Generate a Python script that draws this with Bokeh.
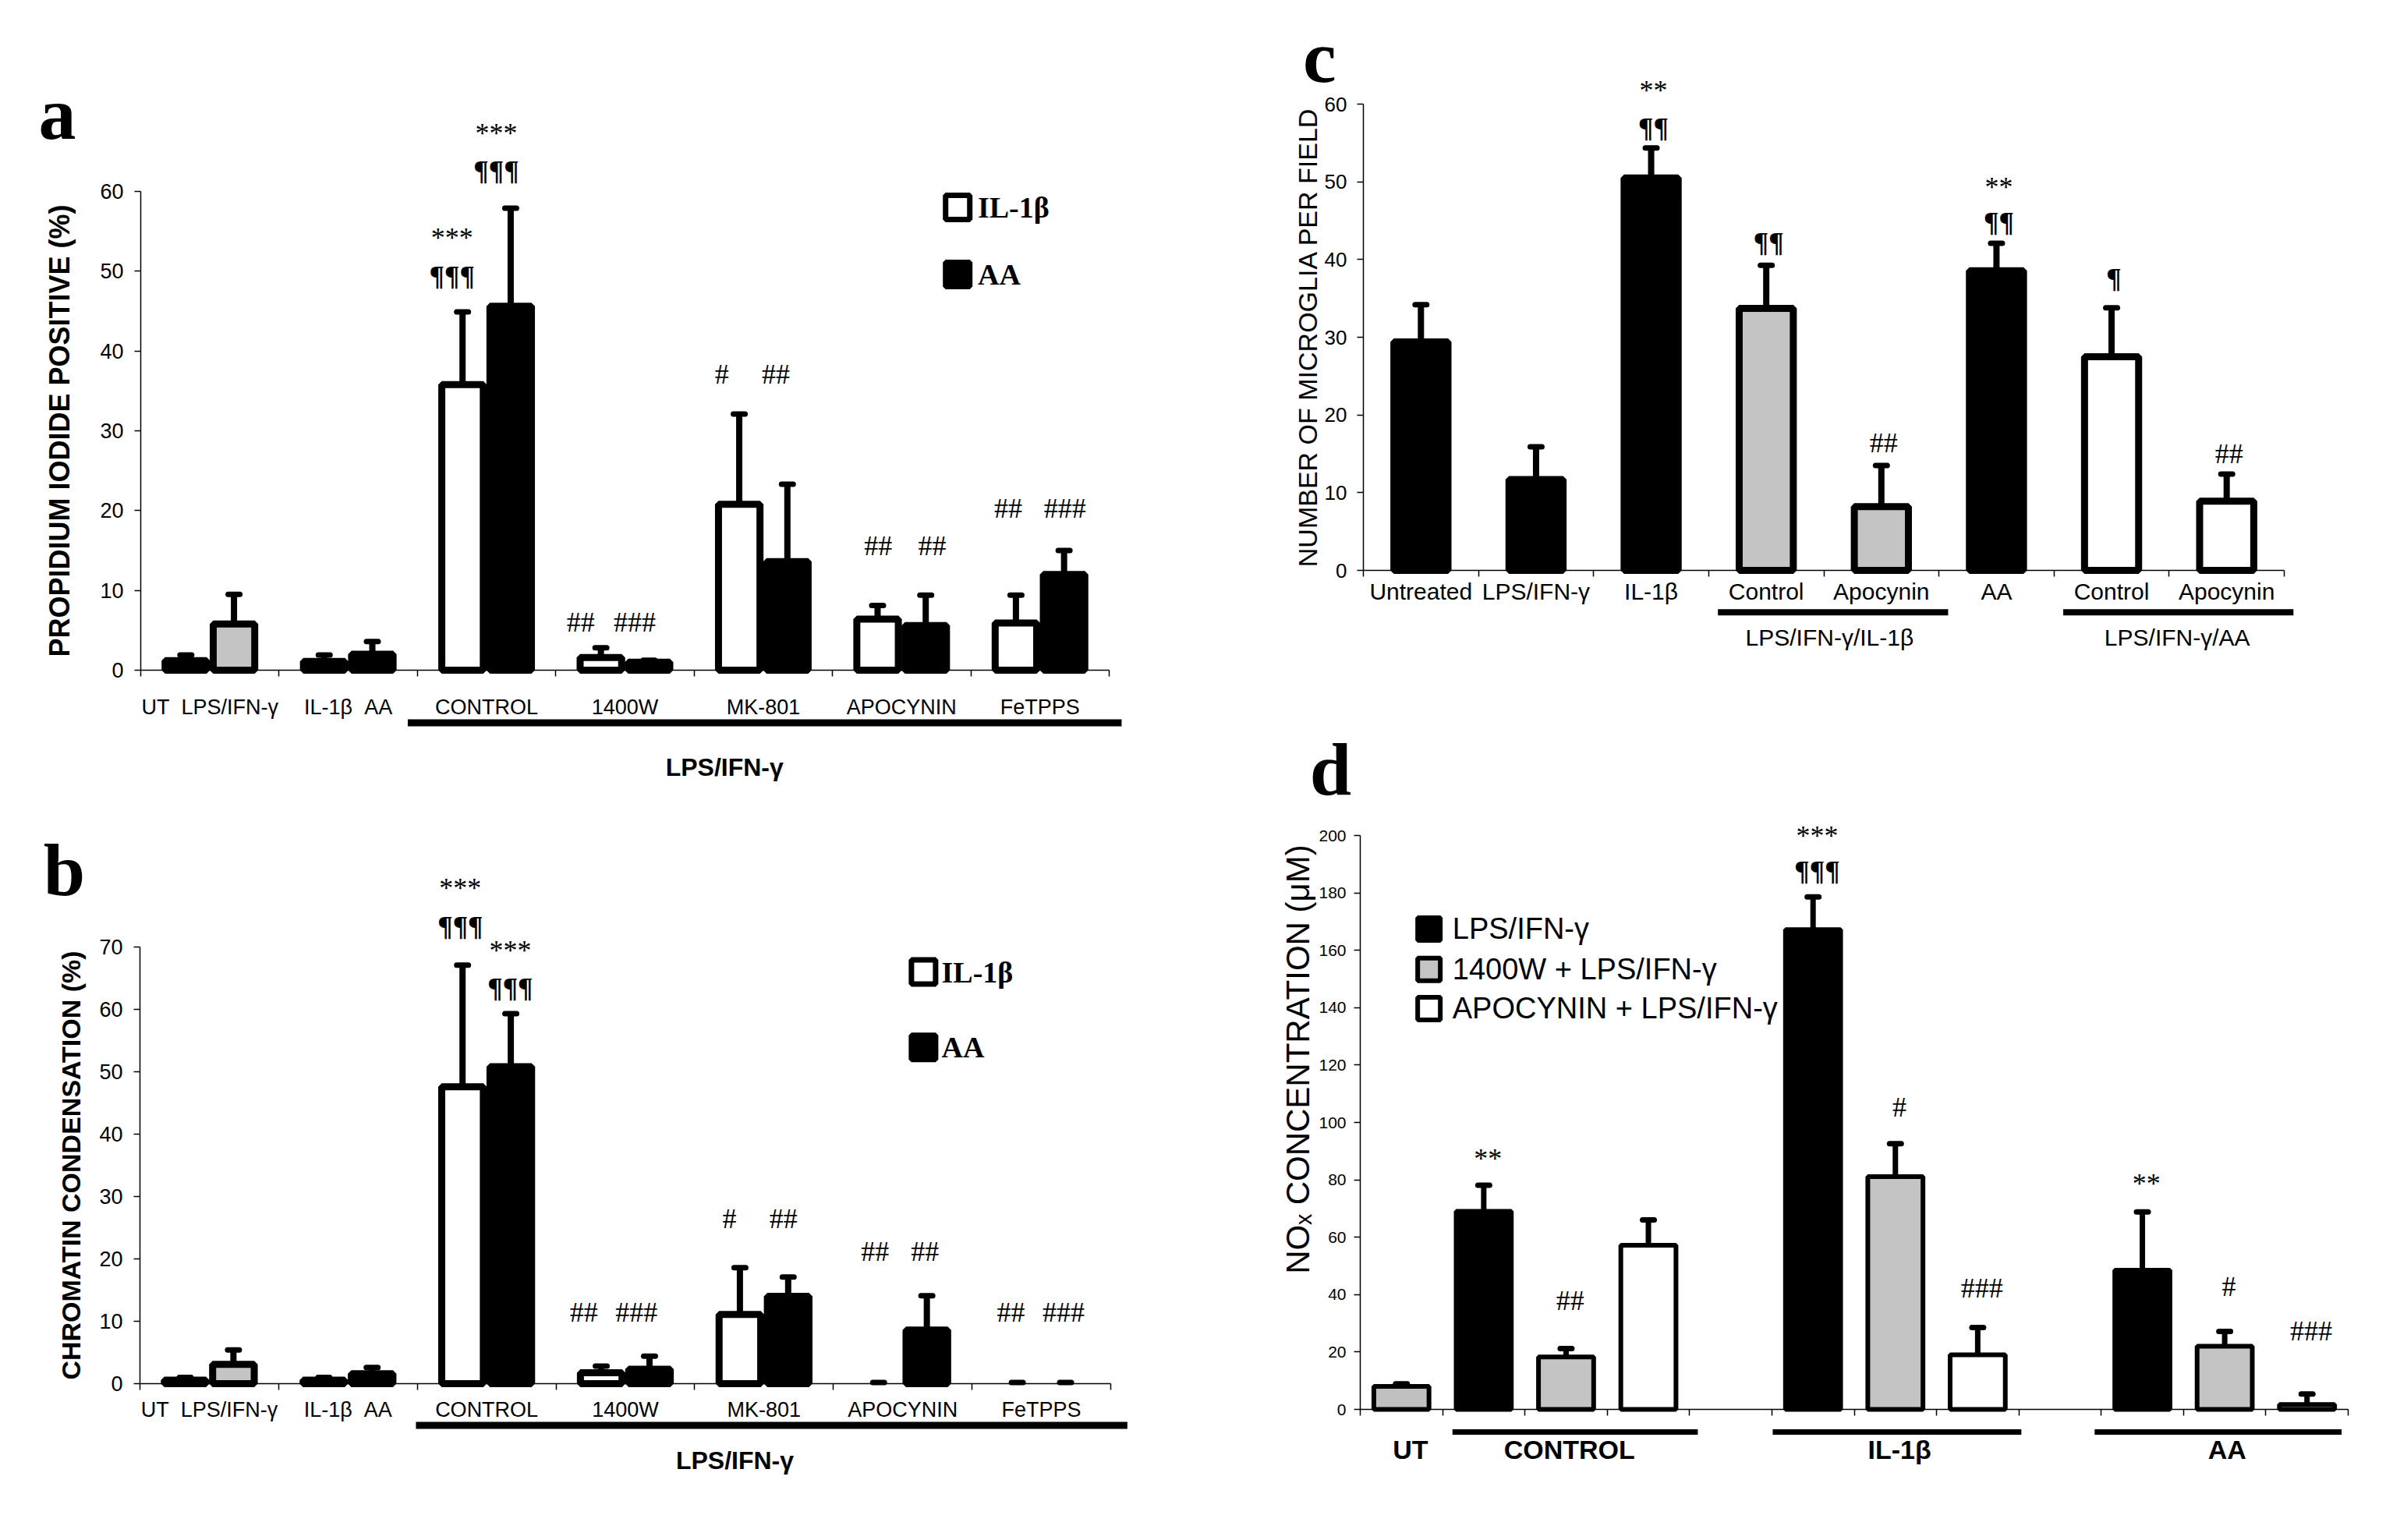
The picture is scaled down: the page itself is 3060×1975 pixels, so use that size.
import math

from bokeh.plotting import figure
from bokeh.models import (ColumnDataSource, Range1d, FixedTicker, Whisker,
                          TeeHead, CDSView, BooleanFilter, Label)
from bokeh.layouts import row, column
from bokeh.core.properties import value, field
from bokeh.embed import file_html
from bokeh.resources import INLINE

SANS = "Liberation Sans"
SERIF = "Liberation Serif"
GREY = "#c4c4c4"

# ---- a: propidium iodide positive (%) ----
a_cats = ["UT\u00a0 LPS/IFN-γ", "IL-1β\u00a0 AA", "CONTROL", "1400W", "MK-801", "APOCYNIN", "FeTPPS"]
a_base = ["UT", "LPS/IFN-γ", "IL-1β", "AA"]
a_base_mean = [1.2, 5.8, 1.1, 2.0]
a_base_err = [1.9, 9.5, 1.9, 3.6]
a_il1b = [35.8, 1.6, 20.8, 6.4, 5.9]
a_il1b_err = [44.9, 2.8, 32.1, 8.1, 9.4]
a_aa = [45.6, 1.0, 13.6, 5.6, 12.0]
a_aa_err = [57.9, 1.25, 23.3, 9.4, 15.0]
a_sig = ["***", "¶¶¶", "***", "¶¶¶", "##", "###", "#", "##", "##", "##", "##", "###"]
a_sig_x = [2.25, 2.25, 2.57, 2.57, 3.18, 3.57, 4.20, 4.59, 5.33, 5.72, 6.27, 6.68]
a_sig_y = [54.2, 49.4, 67.3, 62.6, 6.0, 6.0, 37.1, 37.1, 15.6, 15.6, 20.3, 20.3]

# ---- b: chromatin condensation (%) ----
b_base_mean = [0.55, 3.1, 0.55, 1.6]
b_base_err = [1.0, 5.4, 1.0, 2.6]
b_il1b = [47.6, 1.75, 11.1, 0.0, 0.0]
b_il1b_err = [67.1, 2.8, 18.6, 0.2, 0.2]
b_aa = [50.8, 2.3, 14.0, 8.6, 0.0]
b_aa_err = [59.3, 4.4, 17.1, 14.1, 0.2]
b_sig = a_sig
b_sig_x = [2.31, 2.31, 2.67, 2.67, 3.20, 3.58, 4.25, 4.64, 5.30, 5.66, 6.28, 6.66]
b_sig_y = [79.5, 73.3, 69.5, 63.4, 11.4, 11.4, 26.4, 26.4, 21.2, 21.2, 11.4, 11.4]

# ---- c: microglia per field ----
c_cats = ["Untreated", "LPS/IFN-γ", "IL-1β", "Control", "Apocynin", "AA", "Control", "Apocynin"]
c_mean = [29.4, 11.7, 50.5, 33.7, 8.2, 38.55, 27.5, 8.9]
c_err = [34.2, 15.9, 54.35, 39.25, 13.5, 42.1, 33.8, 12.4]
c_groups = ["LPS/IFN-γ/IL-1β", "LPS/IFN-γ/AA"]
c_sig = ["**", "¶¶", "¶¶", "##", "**", "¶¶", "¶", "##"]
c_sig_bar = [2, 2, 3, 4, 5, 5, 6, 7]
c_sig_y = [61.8, 56.9, 42.2, 16.4, 49.3, 44.8, 37.6, 15.0]

# ---- d: NOx concentration (uM) ----
d_groups = ["UT", "CONTROL", "IL-1β", "AA"]
d_series = ["LPS/IFN-γ", "1400W + LPS/IFN-γ", "APOCYNIN + LPS/IFN-γ"]
d_ut, d_ut_err = 8.0, 8.9
d_lps = [69.0, 167.2, 48.5]
d_lps_err = [78.1, 178.6, 68.8]
d_1400w = [18.3, 81.1, 22.0]
d_1400w_err = [21.2, 92.6, 27.2]
d_apo = [57.2, 19.0, 1.7]
d_apo_err = [66.0, 28.5, 5.4]
d_sig = ["**", "##", "***", "¶¶¶", "#", "###", "**", "#", "###"]
d_sig_slot = [1, 2, 5, 5, 6, 7, 9, 10, 11]
d_sig_y = [87.4, 38.0, 200.0, 187.7, 105.3, 42.3, 78.8, 42.9, 27.4]


def span(lo, hi, p0, v0, p1, v1):
    # range whose ends sit at page pixels lo/hi, given two calibration points
    k = (v1 - v0) / (p1 - p0)
    return Range1d(v0 + (lo - p0) * k, v0 + (hi - p0) * k)


def make_fig(w, h, xr, yr):
    p = figure(width=w, height=h, x_range=xr, y_range=yr, tools="",
               toolbar_location=None, output_backend="svg", min_border=0)
    p.outline_line_color = None
    p.grid.visible = False
    p.xaxis.fixed_location = 0
    p.yaxis.fixed_location = 0
    for ax in (p.xaxis, p.yaxis):
        ax.axis_line_width = 1.5
        ax.major_tick_line_width = 1.5
        ax.minor_tick_line_width = 1.5
        ax.major_tick_in = 0
        ax.minor_tick_in = 0
        ax.major_label_text_font = SANS
        ax.major_label_text_color = "black"
        ax.axis_label_text_font = SANS
        ax.axis_label_text_color = "black"
    return p


def y_axis(p, ticks, title, tick_size, title_size, title_style, standoff, title_standoff):
    ax = p.yaxis
    ax.ticker = FixedTicker(ticks=ticks)
    ax.bounds = (ticks[0], ticks[-1])
    ax.major_tick_out = 8
    ax.minor_tick_out = 0
    ax.major_label_text_font_size = tick_size
    ax.major_label_standoff = standoff
    ax.axis_label = title
    ax.axis_label_text_font_size = title_size
    ax.axis_label_text_font_style = title_style
    ax.axis_label_standoff = title_standoff


def x_axis(p, n, labels, size, standoff):
    ax = p.xaxis
    centers = [i + 0.5 for i in range(len(labels))]
    ax.ticker = FixedTicker(ticks=centers, minor_ticks=list(range(n + 1)))
    ax.bounds = (0, n)
    ax.major_label_overrides = dict(zip(centers, labels))
    ax.major_tick_out = 0
    ax.minor_tick_out = 8
    ax.major_label_text_font_size = size
    ax.major_label_standoff = standoff


def bars(p, xs, tops, errs, fills, width, lw, stem):
    src = ColumnDataSource(dict(x=xs, top=tops, err=errs, fill=fills))
    view = CDSView(filter=BooleanFilter([t > 0 for t in tops]))
    p.vbar(x="x", top="top", bottom=0, width=width, source=src, view=view,
           fill_color="fill", line_color="black", line_width=lw)
    p.add_layout(Whisker(source=src, base="x", lower="top", upper="err",
                         line_width=stem, line_color="black", lower_head=None,
                         upper_head=TeeHead(size=15, line_width=7, line_color="black",
                                            line_cap="round")))


def sig(p, xs, ys, texts):
    styles = ["bold" if "¶" in t else "normal" for t in texts]
    src = ColumnDataSource(dict(x=xs, y=ys, text=texts, style=styles))
    p.text("x", "y", "text", source=src, text_font=value(SERIF), text_font_size="36px",
           text_font_style=field("style"), text_align="center", text_baseline="middle",
           text_color="black")


def label(p, x, y, text, size, font=SANS, style="normal", align="center", angle=0):
    p.add_layout(Label(x=x, y=y, text=text, text_font=font, text_font_size=size,
                       text_font_style=style, text_align=align, text_baseline="middle",
                       text_color="black", angle=angle))


def legend_item(p, x, y, fill, text, tx, font, style, size, marker, lw):
    p.scatter([x], [y], marker="square", size=marker, fill_color=fill,
              line_color="black", line_width=lw)
    label(p, tx, y, text, size, font, style, "left")


def pair_panel(p, base_mean, base_err, il1b, il1b_err, aa, aa_err):
    off = 0.174
    base_x = [0.5 - off, 0.5 + off, 1.5 - off, 1.5 + off]
    bars(p, base_x, base_mean, base_err, ["black", GREY, "black", "black"], 0.30, 9, 8)
    gx = [g + 2.5 for g in range(len(il1b))]
    bars(p, [x - off for x in gx], il1b, il1b_err, ["white"] * len(il1b), 0.30, 9, 8)
    bars(p, [x + off for x in gx], aa, aa_err, ["black"] * len(aa), 0.30, 9, 8)


# ---------- panel a ----------
pa = make_fig(1580, 1042, span(8, 1588, 188, 0, 1430, 7), span(1050, 8, 867, 0, 253, 60))
y_axis(pa, list(range(0, 61, 10)), "PROPIDIUM IODIDE POSITIVE (%)", "27px", "36px", "bold", 14, 28)
x_axis(pa, 7, a_cats, "27px", 24)
pair_panel(pa, a_base_mean, a_base_err, a_il1b, a_il1b_err, a_aa, a_aa_err)
sig(pa, a_sig_x, a_sig_y, a_sig)
pa.segment([1.93], [-6.6], [7.09], [-6.6], line_width=9, line_color="black")
label(pa, 4.22, -12.2, "LPS/IFN-γ", "32px", style="bold")
label(pa, -0.603, 69.8, "a", "96px", SERIF, "bold")
legend_item(pa, 5.905, 58.0, "white", "IL-1β", 6.05, SERIF, "bold", "38px", 31, 7)
legend_item(pa, 5.905, 49.6, "black", "AA", 6.05, SERIF, "bold", "38px", 31, 7)

# ---------- panel b ----------
pb = make_fig(1580, 913, span(8, 1588, 187, 0, 1432, 7), span(1963, 1050, 1782, 0, 1222, 70))
y_axis(pb, list(range(0, 71, 10)), "CHROMATIN CONDENSATION (%)", "27px", "34px", "bold", 14, 14)
x_axis(pb, 7, a_cats, "27px", 10)
pair_panel(pb, b_base_mean, b_base_err, b_il1b, b_il1b_err, b_aa, b_aa_err)
sig(pb, b_sig_x, b_sig_y, b_sig)
pb.segment([1.99], [-6.7], [7.12], [-6.7], line_width=9, line_color="black")
label(pb, 4.29, -12.3, "LPS/IFN-γ", "32px", style="bold")
label(pb, -0.545, 82.4, "b", "96px", SERIF, "bold")
legend_item(pb, 5.65, 66.0, "white", "IL-1β", 5.78, SERIF, "bold", "38px", 31, 7)
legend_item(pb, 5.65, 53.9, "black", "AA", 5.78, SERIF, "bold", "38px", 31, 7)

# ---------- panel c ----------
pc = make_fig(1460, 892, span(1588, 3048, 1756, 0, 2937, 8), span(900, 8, 739, 0, 141, 60))
y_axis(pc, list(range(0, 61, 10)), "NUMBER OF MICROGLIA PER FIELD", "26px", "34px", "normal", 13, 0)
x_axis(pc, 8, c_cats, "30px", 2)
c_fill = ["black", "black", "black", GREY, GREY, "black", "white", "white"]
bars(pc, [i + 0.5 for i in range(len(c_mean))], c_mean, c_err, c_fill, 0.47, 9, 8)
sig(pc, [b + 0.52 for b in c_sig_bar], c_sig_y, c_sig)
pc.segment([3.08, 6.08], [-5.4, -5.4], [5.08, 8.08], [-5.4, -5.4], line_width=8, line_color="black")
label(pc, 4.05, -8.6, c_groups[0], "30px")
label(pc, 7.07, -8.6, c_groups[1], "30px")
label(pc, -0.38, 66.1, "c", "96px", SERIF, "bold")

# ---------- panel d ----------
pd = make_fig(1460, 1063, span(1588, 3048, 1752, 0, 3019, 12), span(1963, 900, 1815, 0, 1079, 200))
y_axis(pd, list(range(0, 201, 20)), None, "21px", "32px", "normal", 10, 0)
label(pd, -0.76, 122, "NOₓ CONCENTRATION (μM)", "42px", angle=math.pi / 2)
pd.xaxis.ticker = FixedTicker(ticks=[], minor_ticks=list(range(13)))
pd.xaxis.bounds = (0, 12)
pd.xaxis.major_tick_out = 0
pd.xaxis.minor_tick_out = 8
bars(pd, [0.5], [d_ut], [d_ut_err], ["#c0c0c0"], 0.67, 6, 7)
starts = [1, 5, 9]
for k, (vals, errs, fill) in enumerate([(d_lps, d_lps_err, "black"),
                                        (d_1400w, d_1400w_err, GREY),
                                        (d_apo, d_apo_err, "white")]):
    bars(pd, [s + k + 0.5 for s in starts], vals, errs, [fill] * 3, 0.67, 6, 7)
sig(pd, [s + 0.55 for s in d_sig_slot], d_sig_y, d_sig)
pd.segment([1.12, 5.01, 8.92], [-7.9] * 3, [4.10, 8.03, 11.92], [-7.9] * 3,
           line_width=7, line_color="black")
for x, g in zip([0.61, 2.54, 6.55, 10.53], d_groups):
    label(pd, x, -13.9, g, "34px", style="bold")
label(pd, -0.36, 223, "d", "96px", SERIF, "bold")
for y, fill, name in zip([167.4, 153.3, 139.7], ["black", GREY, "white"], d_series):
    legend_item(pd, 0.835, y, fill, name, 1.12, SANS, "normal", "38px", 29, 6)

layout = row(column(pa, pb), column(pc, pd))
open("out.html", "w").write(file_html(layout, INLINE))
